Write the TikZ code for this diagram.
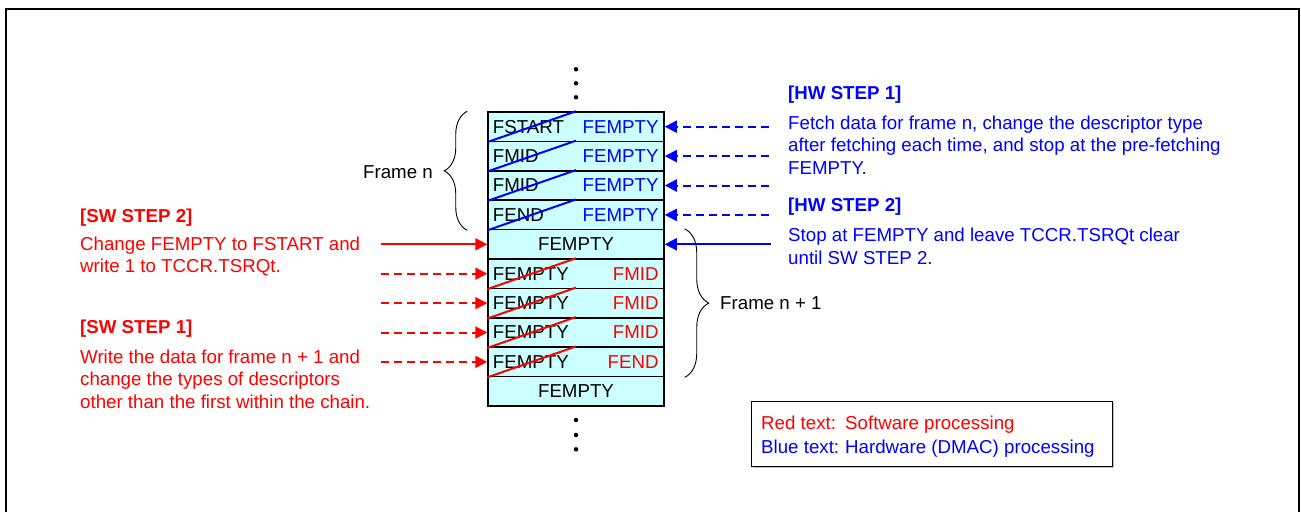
\documentclass[tikz,border=0pt]{standalone}
\usepackage{fontspec}
\setmainfont{Liberation Sans}
\usetikzlibrary{arrows.meta,decorations.pathreplacing,shadows}
\definecolor{hwblue}{RGB}{0,0,255}
\definecolor{swred}{RGB}{255,0,0}
\definecolor{cellcyan}{RGB}{204,255,255}
\begin{document}
\begin{tikzpicture}[x=1pt,y=1pt,
  every node/.style={font=\fontsize{18.7}{22.5}\selectfont, inner sep=0pt},
  cell/.style={draw=black, line width=1.5pt, fill=cellcyan, minimum width=176pt, minimum height=29.4pt},
  ltxt/.style={anchor=west},
  rtxt/.style={anchor=east},
  diag/.style={line width=2pt},
  hwarrow/.style={draw=hwblue, line width=2pt, -{Triangle[length=12pt,width=12pt]}},
  swarrow/.style={draw=swred, line width=2pt, -{Triangle[length=12pt,width=12pt]}},
  dashpat/.style={dash pattern=on 8pt off 5pt},
  bracestyle/.style={draw=black, line width=0.9pt, decorate, decoration={brace, amplitude=23pt}},
  txt/.style={anchor=base west},
  head/.style={anchor=base west, font=\fontsize{18.7}{22.5}\selectfont\bfseries},
  dot/.style={circle, fill=black, minimum size=4.5pt}
]
\useasboundingbox (0,0) rectangle (1301,-512);
\draw[line width=2pt] (6,-512) -- (6,-9) -- (1299,-9) -- (1299,-512);

% cells
\foreach \i in {1,...,10}
  \node[cell] (r\i) at (576,{-112-29.4*(\i-0.5)}) {};

% cell texts
\node[ltxt] (l1) at ([xshift=5.5pt]r1.west) {FSTART};
\node[ltxt] (l2) at ([xshift=5.5pt]r2.west) {FMID};
\node[ltxt] (l3) at ([xshift=5.5pt]r3.west) {FMID};
\node[ltxt] (l4) at ([xshift=5.5pt]r4.west) {FEND};
\foreach \i in {1,...,4}
  \node[rtxt, text=hwblue] (rt\i) at ([xshift=-6pt]r\i.east) {FEMPTY};
\node (c5) at (r5.center) {FEMPTY};
\foreach \i in {6,...,9}
  \node[ltxt] (l\i) at ([xshift=5.5pt]r\i.west) {FEMPTY};
\node[rtxt, text=swred] (rt6) at ([xshift=-6pt]r6.east) {FMID};
\node[rtxt, text=swred] (rt7) at ([xshift=-6pt]r7.east) {FMID};
\node[rtxt, text=swred] (rt8) at ([xshift=-6pt]r8.east) {FMID};
\node[rtxt, text=swred] (rt9) at ([xshift=-6pt]r9.east) {FEND};
\node (c10) at (r10.center) {FEMPTY};

% diagonals
\foreach \i in {1,...,4}
  \draw[diag, hwblue] (r\i.south west) -- (r\i.north);
\foreach \i in {6,...,9}
  \draw[diag, swred] (r\i.south west) -- (r\i.north);

% dots
\node[dot] (d1) at (576,-69.3) {};
\node[dot] (d2) at (576,-83.3) {};
\node[dot] (d3) at (576,-97.3) {};
\node[dot] (d4) at (576,-420) {};
\node[dot] (d5) at (576,-435) {};
\node[dot] (d6) at (576,-449.3) {};

% arrows
\coordinate (hwx) at (769,0);
\coordinate (hwy) at (771,0);
\coordinate (swx) at (381,0);
\foreach \i in {1,...,4}
  \draw[hwarrow, dashpat] (hwx |- r\i.east) -- (r\i.east);
\draw[hwarrow] (hwy |- r5.east) -- (r5.east);
\draw[swarrow] (swx |- r5.west) -- (r5.west);
\foreach \i in {6,...,9}
  \draw[swarrow, dashpat] (swx |- r\i.west) -- (r\i.west);

% braces
\draw[bracestyle] ([xshift=-20pt]r4.south west) -- ([xshift=-20pt]r1.north west);
\draw[bracestyle, decoration={brace, amplitude=24pt}] ([xshift=20pt]r5.north east) -- ([xshift=20pt]r9.south east);
\node[anchor=base east] (fn) at (433,-178) {Frame n};
\node[txt] (fn1) at (720,-309) {Frame n + 1};

% HW texts
\node[head, text=hwblue] (hw1) at (788,-99.5) {[HW STEP 1]};
\node[txt, text=hwblue] (hw1a) at (788,-129) {Fetch data for frame n, change the descriptor type};
\node[txt, text=hwblue] (hw1b) at (788,-151.5) {after fetching each time, and stop at the pre-fetching};
\node[txt, text=hwblue] (hw1c) at (788,-174) {FEMPTY.};
\node[head, text=hwblue] (hw2) at (788,-211) {[HW STEP 2]};
\node[txt, text=hwblue] (hw2a) at (788,-241.5) {Stop at FEMPTY and leave TCCR.TSRQt clear};
\node[txt, text=hwblue] (hw2b) at (788,-264) {until SW STEP 2.};

% SW texts
\node[head, text=swred] (sw2) at (80,-222) {[SW STEP 2]};
\node[txt, text=swred] (sw2a) at (80,-250) {Change FEMPTY to FSTART and};
\node[txt, text=swred] (sw2b) at (80,-272.5) {write 1 to TCCR.TSRQt.};
\node[head, text=swred] (sw1) at (80,-333) {[SW STEP 1]};
\node[txt, text=swred] (sw1a) at (80,-363) {Write the data for frame n + 1 and};
\node[txt, text=swred] (sw1b) at (80,-385.5) {change the types of descriptors};
\node[txt, text=swred] (sw1c) at (80,-408) {other than the first within the chain.};

% legend
\node[draw=black, line width=1pt, fill=white, minimum width=361pt, minimum height=65pt,
      drop shadow={shadow xshift=1.5pt, shadow yshift=-1.5pt, opacity=0.45}] (legend) at (931.5,-433.5) {};
\node[txt, text=swred] (lg1) at (761,-429) {Red text:};
\node[txt, text=swred] (lg2) at (845,-429) {Software processing};
\node[txt, text=hwblue] (lg3) at (761,-453) {Blue text:};
\node[txt, text=hwblue] (lg4) at (845,-453) {Hardware (DMAC) processing};
\end{tikzpicture}
\end{document}
